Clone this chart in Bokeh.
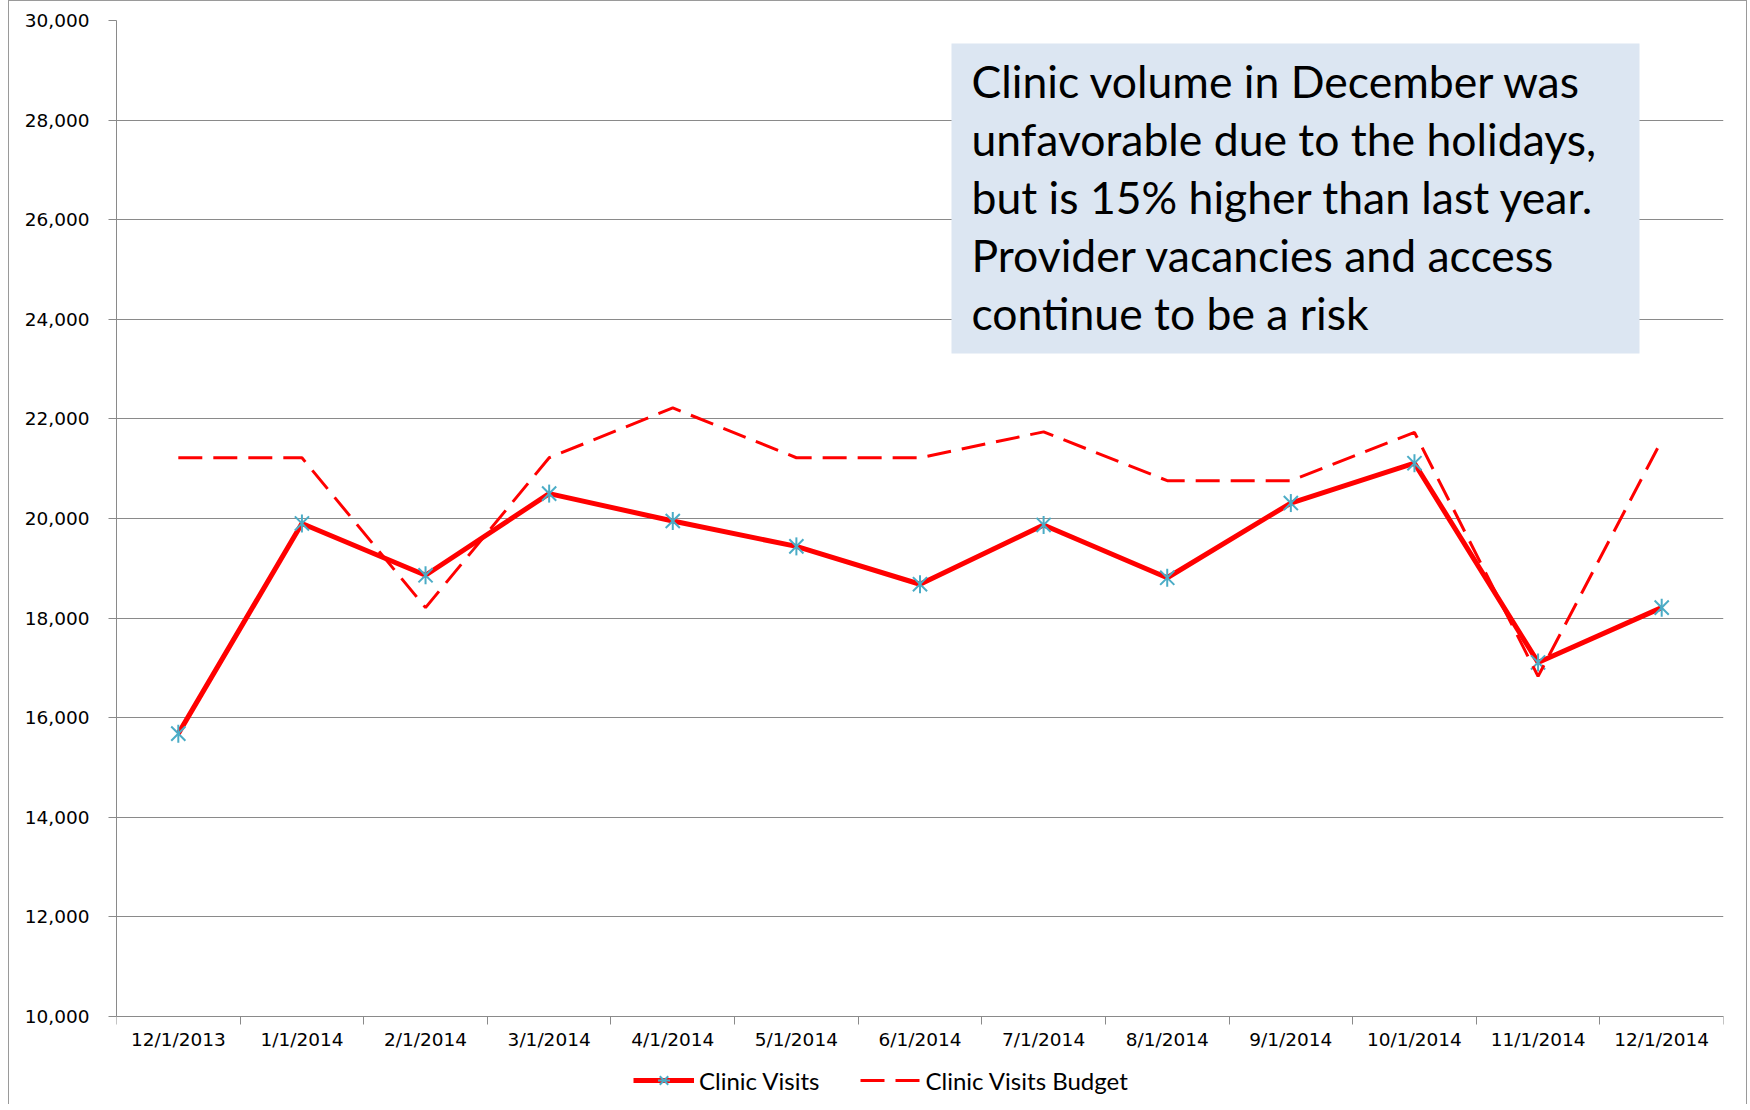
import math
from bokeh.plotting import figure
from bokeh.models import (FixedTicker, NumeralTickFormatter, Range1d, BoxAnnotation,
                          Legend, LegendItem)
from bokeh.core.properties import value
from bokeh.embed import file_html
from bokeh.resources import INLINE

# ---------------- data ----------------
months = ["12/1/2013", "1/1/2014", "2/1/2014", "3/1/2014", "4/1/2014", "5/1/2014",
          "6/1/2014", "7/1/2014", "8/1/2014", "9/1/2014", "10/1/2014", "11/1/2014",
          "12/1/2014"]
clinic_visits = [15680, 19900, 18860, 20500, 19950, 19440, 18680, 19870, 18810,
                 20310, 21110, 17110, 18210]
clinic_visits_budget = [21220, 21220, 18210, 21220, 22220, 21220, 21220, 21740,
                        20760, 20760, 21730, 16830, 21570]
y_ticks = [10000, 12000, 14000, 16000, 18000, 20000, 22000, 24000, 26000, 28000, 30000]
note_lines = ["Clinic volume in December was",
              "unfavorable due to the holidays,",
              "but is 15% higher than last year.",
              "Provider vacancies and access",
              "continue to be a risk"]

# ---------------- layout constants (page pixels) ----------------
HOST_LEFT = 8          # host element shifted by css margin
CANVAS_LEFT = HOST_LEFT + 1
CANVAS_TOP = 1
W, H = 1739, 1104
FRAME_L, FRAME_R, FRAME_T = 116, 1723, 20     # page coords
AXIS_B = 1016                                 # page y of the 10,000 axis line
FRAME_B = CANVAS_TOP + H                      # frame reaches the canvas bottom
X0, X1 = -0.5, len(months) - 0.5
Y_AXIS_MIN, Y1 = 10000, 30000
PX_PER_UNIT = (AXIS_B - FRAME_T) / (Y1 - Y_AXIS_MIN)
Y0 = Y_AXIS_MIN - (FRAME_B - AXIS_B) / PX_PER_UNIT


def px_to_x(px):
    return X0 + (px - FRAME_L) / (FRAME_R - FRAME_L) * (X1 - X0)


def py_to_y(py):
    return Y1 - (py - FRAME_T) / PX_PER_UNIT


x = list(range(len(months)))

p = figure(width=W, height=H,
           x_range=Range1d(X0, X1), y_range=Range1d(Y0, Y1),
           output_backend="svg", toolbar_location=None,
           min_border_left=FRAME_L - CANVAS_LEFT,
           min_border_right=CANVAS_LEFT + W - FRAME_R,
           min_border_top=FRAME_T - CANVAS_TOP,
           min_border_bottom=0)
p.styles = {"margin-left": "%dpx" % HOST_LEFT,
            "border-left": "1px solid #9a9a9a", "border-right": "1px solid #9a9a9a",
            "border-top": "1px solid #9a9a9a"}
p.outline_line_color = None
p.background_fill_color = "white"
p.border_fill_color = "white"

GRID = "#8a8a8a"
AXIS_FONT = "DejaVu Sans"

# x axis: drawn at 10,000; labels at category centres, tick marks at boundaries
p.xaxis.fixed_location = Y_AXIS_MIN
p.xaxis.ticker = FixedTicker(ticks=x, minor_ticks=[i - 0.5 for i in range(len(months) + 1)])
p.xaxis.major_label_overrides = {i: m for i, m in enumerate(months)}
p.xaxis.major_tick_out = 0
p.xaxis.major_tick_in = 0
p.xaxis.minor_tick_out = 8
p.xaxis.minor_tick_in = 0
p.xaxis.minor_tick_line_color = GRID
p.xaxis.axis_line_color = GRID
p.xaxis.major_label_standoff = 4
p.xaxis.major_label_text_font = AXIS_FONT
p.xaxis.major_label_text_font_size = "18.5px"
p.xaxis.major_label_text_color = "black"
p.xgrid.visible = False

# y axis
p.yaxis.bounds = (Y_AXIS_MIN, Y1)
p.yaxis.ticker = FixedTicker(ticks=y_ticks)
p.yaxis.formatter = NumeralTickFormatter(format="0,0")
p.yaxis.major_tick_out = 8
p.yaxis.major_tick_in = 0
p.yaxis.minor_tick_out = 0
p.yaxis.minor_tick_in = 0
p.yaxis.major_tick_line_color = GRID
p.yaxis.axis_line_color = GRID
p.yaxis.major_label_standoff = 19
p.yaxis.major_label_text_font = AXIS_FONT
p.yaxis.major_label_text_font_size = "18.5px"
p.yaxis.major_label_text_color = "black"
p.ygrid.grid_line_color = GRID
p.ygrid.grid_line_width = 1

# annotation box
box = BoxAnnotation(left=px_to_x(951), right=px_to_x(1639), top=py_to_y(43),
                    bottom=py_to_y(353), fill_color="#DCE6F2", fill_alpha=1.0,
                    line_color=None, level="underlay")
p.add_layout(box)

p.text(x=[px_to_x(971)] * len(note_lines),
       y=[py_to_y(80 + 58 * k) for k in range(len(note_lines))],
       text=note_lines, text_font=value("Lato"), text_font_size=value("44.5px"),
       text_color="black", text_baseline="alphabetic", text_align="left")

# series
RED = "#FF0000"
TEAL = "#4BACC6"
r_visits = p.line(x, clinic_visits, line_color=RED, line_width=5, line_join="round")
r_mx = p.scatter(x, clinic_visits, marker="x", size=20, line_color=TEAL, line_width=2)
r_mv = p.scatter(x, clinic_visits, marker="dash", angle=math.pi / 2, size=18,
                 line_color=TEAL, line_width=2)
r_budget = p.line(x, clinic_visits_budget, line_color=RED, line_width=3,
                  line_dash="24 11")

LEG_H = 30
LEG_CENTER_Y = 1080
legend = Legend(items=[LegendItem(label="Clinic Visits", renderers=[r_visits, r_mx, r_mv]),
                       LegendItem(label="Clinic Visits Budget", renderers=[r_budget])],
                orientation="horizontal",
                location=(633 - FRAME_L, FRAME_B - (LEG_CENTER_Y + LEG_H // 2)),
                glyph_width=61, glyph_height=LEG_H, label_height=LEG_H, label_standoff=5,
                spacing=40, padding=0, margin=0, border_line_color=None,
                background_fill_alpha=0, label_text_font="Lato",
                label_text_font_size="24px", label_text_color="black",
                label_text_baseline="middle")
p.add_layout(legend, "center")

open("out.html", "w").write(file_html(p, INLINE))
